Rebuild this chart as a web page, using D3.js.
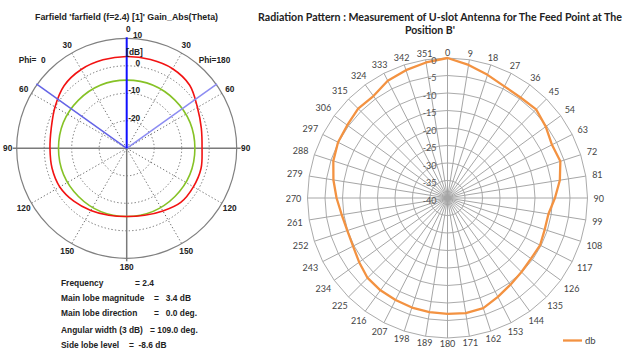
<!DOCTYPE html>
<html><head><meta charset="utf-8">
<script src="https://cdn.jsdelivr.net/npm/d3@7"></script>
<style>
body{margin:0;background:#fff}
svg{display:block}
text{white-space:pre}
</style>
</head><body>
<svg id="chart" width="624" height="351"></svg>
<script>
// ---- Simulated farfield cut (CST style polar plot) ----
const thetaDeg   = [0, 15, 30, 45, 60, 75, 90, 105, 120, 135, 150, 165, 180];
const gainPhi0   = [3.4, 3.3, 3.1, 2.2, 0.1, -1.6, -2.1, -1.9, -1.9, -2.8, -3.9, -4.8, -5.2];
const gainPhi180 = [3.4, 3.4, 3.4, 2.4, -0.3, -1.9, -2.6, -2.0, -2.0, -2.2, -3.7, -4.8, -5.2];
const farfieldRingTicks = [10, 0, -10, -20];
const thetaTickLabels = [0, 30, 60, 90, 120, 150, 180];
const frequency = 2.4;
const mainLobeMagnitude = 3.4;
const mainLobeDirection = 0.0;
const angularWidth3dB = 109.0;
const sideLobeLevel = -8.6;

// ---- Measured radiation pattern (radar) ----
const azimuthDeg = [0, 9, 18, 27, 36, 45, 54, 63, 72, 81, 90, 99, 108, 117, 126, 135, 144, 153, 162, 171,
                    180, 189, 198, 207, 216, 225, 234, 243, 252, 261, 270, 279, 288, 297, 306, 315, 324, 333, 342, 351];
const measuredDb = [0, -1.5, -3.0, -4.2, -4.5, -4.2, -5.3, -6.5, -6.1, -7.5,
                    -9.3, -10.8, -10.8, -10.3, -10.5, -10.1, -9.4, -8.3, -6.9, -6.7,
                    -6.9, -7.0, -7.1, -7.3, -7.4, -7.7, -8.8, -9.7, -9.9, -9.4,
                    -8.3, -7.0, -5.7, -4.9, -4.6, -3.9, -4.0, -2.4, -1.6, -0.8];
const radialTicks = [0, -5, -10, -15, -20, -25, -30, -35, -40];
const seriesName = "db";

const svg = d3.select("#chart");
const rad = d => d * Math.PI / 180;

// =================== Left: farfield polar plot ===================
{
  const cx = 126.7, cy = 148.3, R = 110;
  const g = svg.append("g").attr("transform", `translate(${cx},${cy})`);
  const r = d3.scaleLinear().domain([-30, 10]).range([0, R]);
  const boldFont = "'Liberation Sans', Arial, sans-serif";
  const ink = "#222";

  // dotted rings
  g.selectAll("circle.ring").data(farfieldRingTicks.filter(v => v < 10)).join("circle")
    .attr("r", d => r(d)).attr("fill", "none")
    .attr("stroke", "#6e6e6e").attr("stroke-width", 1).attr("stroke-dasharray", "1.3,2.2");
  // dotted spokes
  const spokeAngles = [30, 60, 120, 150, -30, -60, -120, -150];
  g.selectAll("line.sp").data(spokeAngles).join("line")
    .attr("x1", 0).attr("y1", 0)
    .attr("x2", d => R * Math.sin(rad(d))).attr("y2", d => -R * Math.cos(rad(d)))
    .attr("stroke", "#6e6e6e").attr("stroke-width", 1).attr("stroke-dasharray", "1.3,2.2");
  // outer circle
  g.append("circle").attr("r", R).attr("fill", "none").attr("stroke", "#808080").attr("stroke-width", 1.2);
  // solid axes
  g.append("line").attr("x1", -R - 4).attr("x2", R + 4).attr("y1", 0).attr("y2", 0)
    .attr("stroke", "#7a7a7a").attr("stroke-width", 1.5);
  g.append("line").attr("x1", 0).attr("x2", 0).attr("y1", 0).attr("y2", R + 3)
    .attr("stroke", "#7a7a7a").attr("stroke-width", 1.5);

  // side lobe level circle
  g.append("circle").attr("r", r(mainLobeMagnitude + sideLobeLevel))
    .attr("fill", "none").attr("stroke", "#86c226").attr("stroke-width", 1.6);

  // gain curve: phi=180 on the right (clockwise), phi=0 on the left
  const pts = [];
  thetaDeg.forEach((t, i) => pts.push([rad(t), r(gainPhi180[i])]));
  for (let i = thetaDeg.length - 2; i >= 1; i--) pts.push([2 * Math.PI - rad(thetaDeg[i]), r(gainPhi0[i])]);
  g.append("path").datum(pts)
    .attr("d", d3.lineRadial().angle(d => d[0]).radius(d => d[1]).curve(d3.curveCatmullRomClosed))
    .attr("fill", "none").attr("stroke", "#f21212").attr("stroke-width", 1.6);

  // 3 dB beamwidth lines
  const half = angularWidth3dB / 2;
  [[-half, "#6464e6"], [half, "#8c8cf2"]].forEach(([a, col]) => {
    const t = rad(mainLobeDirection + a);
    g.append("line").attr("x1", 0).attr("y1", 0)
      .attr("x2", (R + 1) * Math.sin(t)).attr("y2", -(R + 1) * Math.cos(t))
      .attr("stroke", col).attr("stroke-width", 1.5);
  });
  // main lobe direction
  g.append("line").attr("x1", 0).attr("y1", 0)
    .attr("x2", R * Math.sin(rad(mainLobeDirection))).attr("y2", -R * Math.cos(rad(mainLobeDirection)) - 1)
    .attr("stroke", "#1010ff").attr("stroke-width", 2);

  // theta labels on both halves
  const lab = [];
  thetaTickLabels.forEach(t => {
    lab.push(t);
    if (t !== 0 && t !== 180) lab.push(-t);
  });
  g.selectAll("text.th").data(lab).join("text")
    .attr("x", d => (d === 0 ? 1.5 : 0) + 119 * Math.sin(rad(d))).attr("y", d => -119 * Math.cos(rad(d)))
    .attr("text-anchor", "middle").attr("dominant-baseline", "central")
    .attr("font-family", boldFont).attr("font-weight", "bold").attr("font-size", 8.3).attr("fill", ink)
    .text(d => Math.abs(d));

  // radial tick labels, sitting on their ring
  g.selectAll("text.rt").data(farfieldRingTicks).join("text")
    .attr("x", d => d === 10 ? 15.5 : 13.5).attr("y", d => -r(d))
    .attr("text-anchor", "end")
    .attr("font-family", boldFont).attr("font-weight", "bold").attr("font-size", 8.3).attr("fill", ink)
    .text(d => d);
  g.append("text").attr("x", -0.5).attr("y", -r(0) - 11.3).attr("font-family", boldFont)
    .attr("font-weight", "bold").attr("font-size", 8.3).attr("fill", ink).text("[dB]");

  g.append("text").attr("x", -108).attr("y", -85).attr("font-family", boldFont)
    .attr("font-weight", "bold").attr("font-size", 8.3).attr("fill", ink).text("Phi=  0");
  g.append("text").attr("x", 72).attr("y", -85).attr("font-family", boldFont)
    .attr("font-weight", "bold").attr("font-size", 8.3).attr("fill", ink).text("Phi=180");

  // title
  svg.append("text").attr("x", 126.5).attr("y", 20).attr("text-anchor", "middle")
    .attr("font-family", boldFont).attr("font-weight", "bold").attr("font-size", 8.3).attr("fill", ink)
    .attr("textLength", 183).attr("lengthAdjust", "spacingAndGlyphs")
    .text("Farfield 'farfield (f=2.4) [1]' Gain_Abs(Theta)");

  // summary block
  const info = [
    ["Frequency", 135, "= " + frequency, 286],
    ["Main lobe magnitude", 154, "=   " + mainLobeMagnitude.toFixed(1) + " dB", 300.5],
    ["Main lobe direction", 154, "=   " + mainLobeDirection.toFixed(1) + " deg.", 316],
    ["Angular width (3 dB)", 150, "= " + angularWidth3dB.toFixed(1) + " deg.", 332.5],
    ["Side lobe level", 129, "=  " + sideLobeLevel.toFixed(1) + " dB", 347.5]
  ];
  info.forEach(([k, xv, v, y]) => {
    const tt = svg.append("text").attr("y", y).attr("font-family", boldFont).attr("font-weight", "bold")
      .attr("font-size", 8.4).attr("fill", ink);
    tt.append("tspan").attr("x", 61).text(k);
    tt.append("tspan").attr("x", xv).text(v);
  });
}

// =================== Right: measured radar chart ===================
{
  const cx = 447.5, cy = 198, R = 140;
  const font = "Lato, 'Liberation Sans', sans-serif";
  const g = svg.append("g").attr("transform", `translate(${cx},${cy})`);
  const r = d3.scaleLinear().domain([-40, 0]).range([0, R]);
  const ang = d3.scaleLinear().domain([0, 360]).range([0, 2 * Math.PI]);

  // ring polygons
  const ringLine = d3.lineRadial().curve(d3.curveLinearClosed);
  g.selectAll("path.ring").data(radialTicks.filter(v => v > -40)).join("path")
    .attr("d", v => ringLine(azimuthDeg.map(a => [ang(a), r(v)])))
    .attr("fill", "none").attr("stroke", "#ababab").attr("stroke-width", 1);
  // spokes
  g.selectAll("line.sp").data(azimuthDeg).join("line")
    .attr("x1", 0).attr("y1", 0)
    .attr("x2", a => R * Math.sin(ang(a))).attr("y2", a => -R * Math.cos(ang(a)))
    .attr("stroke", "#a6a6a6").attr("stroke-width", 1);

  // data series
  g.append("path").datum(azimuthDeg.map((a, i) => [ang(a), r(measuredDb[i])]))
    .attr("d", d3.lineRadial().curve(d3.curveLinearClosed))
    .attr("fill", "none").attr("stroke", "#f39241").attr("stroke-width", 2.3).attr("stroke-linejoin", "round");

  // radial axis labels
  g.selectAll("text.rt").data(radialTicks).join("text")
    .attr("x", -11).attr("y", v => -r(v) + 2)
    .attr("text-anchor", "end").attr("dominant-baseline", "central")
    .attr("font-family", font).attr("font-size", 9).attr("fill", "#555")
    .text(v => v);

  // category labels placed so their box keeps a gap from the outer ring
  const cat = g.selectAll("text.cat").data(azimuthDeg).join("text")
    .attr("text-anchor", "middle").attr("dominant-baseline", "central")
    .attr("font-family", font).attr("font-size", 9).attr("fill", "#444")
    .text(a => a);
  cat.each(function (a) {
    const w = this.getComputedTextLength(), h = 9;
    const t = ang(a), s = Math.sin(t), c = -Math.cos(t);
    const gap = 141 + 5 * s * s;
    let d = 120;
    for (; d < 200; d += 0.25) {
      const x = d * s, y = d * c;
      const nx = Math.max(Math.abs(x) - w / 2, 0), ny = Math.max(Math.abs(y) - h / 2, 0);
      if (Math.hypot(nx, ny) >= gap) break;
    }
    d3.select(this).attr("x", d * s).attr("y", d * c);
  });

  // legend
  const lg = svg.append("g").attr("transform", "translate(563,340.5)");
  lg.append("line").attr("x1", 0).attr("x2", 19).attr("stroke", "#f39241").attr("stroke-width", 2.3);
  lg.append("text").attr("x", 22).attr("y", 0).attr("dominant-baseline", "central")
    .attr("font-family", font).attr("font-size", 9.5).attr("fill", "#444").text(seriesName);

  // title
  const title = svg.append("text").attr("font-family", font).attr("font-weight", "bold")
    .attr("font-size", 10.5).attr("fill", "#222").attr("text-anchor", "middle");
  title.append("tspan").attr("x", 440).attr("y", 20.5)
    .attr("textLength", 364).attr("lengthAdjust", "spacingAndGlyphs")
    .text("Radiation Pattern : Measurement of U-slot Antenna for The Feed Point at The");
  title.append("tspan").attr("x", 430).attr("y", 33.5).text("Position B'");
}
</script>
</body></html>
